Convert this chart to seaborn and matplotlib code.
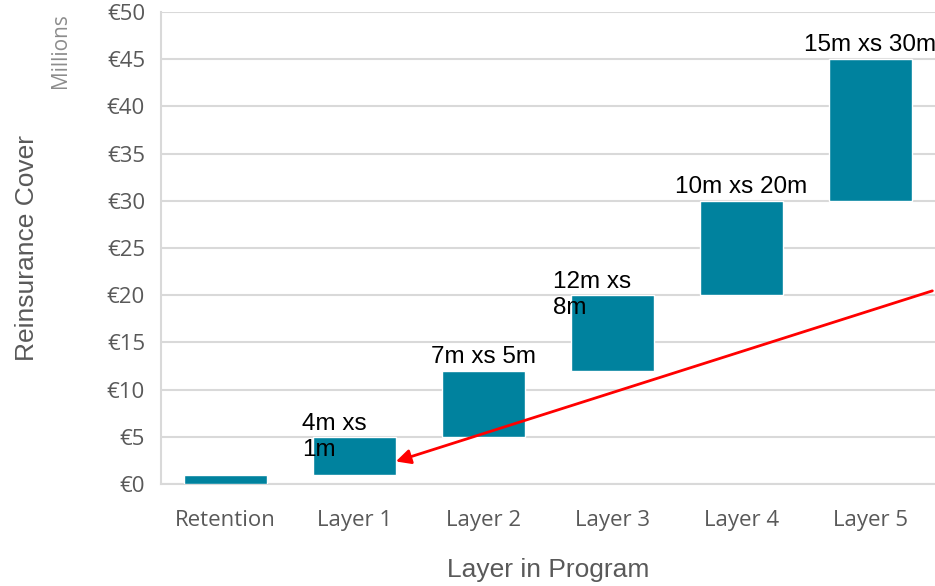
import matplotlib
matplotlib.use("Agg")
import matplotlib.pyplot as plt
import seaborn as sns
import pandas as pd

# Reinsurance programme tower (values in € millions)
layers = ["Retention", "Layer 1", "Layer 2", "Layer 3", "Layer 4", "Layer 5"]
attachment = [0, 1, 5, 12, 20, 30]
cover = [1, 4, 7, 8, 10, 15]
layer_labels = ["", "4m xs\n1m", "7m xs 5m", "12m xs\n8m", "10m xs 20m", "15m xs 30m"]
y_ticks = [0, 5, 10, 15, 20, 25, 30, 35, 40, 45, 50]

df = pd.DataFrame({"layer": layers, "base": attachment, "size": cover})

sns.set_theme(style="white")
plt.rcParams["font.family"] = ["Liberation Sans", "DejaVu Sans"]

fig = plt.figure(figsize=(9.35, 5.86), dpi=100)
ax = fig.add_axes([161 / 935, 1 - 484 / 586, 1 - 161 / 935, 472 / 586])

teal = "#00829E"
sns.barplot(data=df, x="layer", y="size", bottom=df["base"].to_numpy(),
            color=teal, saturation=1, width=0.64, ax=ax, zorder=3)

ax.set_xlim(-0.5, len(layers) - 0.5)
ax.set_ylim(0, 50)
ax.set_yticks(y_ticks)
ax.set_yticklabels([f"€{v}" for v in y_ticks])

grid_c = "#d9d9d9"
ax.yaxis.grid(True, color=grid_c, lw=1.5, zorder=0)
ax.set_axisbelow(True)
for s in ["top", "right"]:
    ax.spines[s].set_visible(False)
for s in ["left", "bottom"]:
    ax.spines[s].set_color(grid_c)
    ax.spines[s].set_linewidth(1.5)

tick_c = "#595959"
ax.tick_params(axis="both", length=0, colors=tick_c)
ax.tick_params(axis="y", pad=11.5)
ax.tick_params(axis="x", pad=18.5)
for t in ax.get_xticklabels() + ax.get_yticklabels():
    t.set_fontfamily(["Open Sans", "DejaVu Sans"])
    t.set_fontsize(16)

ax.set_xlabel("Layer in Program", fontsize=19, color=tick_c, va="center")
ax.xaxis.set_label_coords(0.5, (484 - 570) / 472)
ax.set_ylabel("Reinsurance Cover", fontsize=19, color=tick_c, va="center")
ax.yaxis.set_label_coords((27 - 161) / 774, 0.5)

fig.text(60 / 935, 1 - 13 / 586, "Millions", rotation=90, ha="center", va="top",
         fontsize=15, color="#8c8c8c", family=["Open Sans", "DejaVu Sans"])

# Layer annotations
for i, (lab, b, s) in enumerate(zip(layer_labels, attachment, cover)):
    if not lab:
        continue
    top = b + s
    if "\n" in lab:
        ax.annotate(lab, xy=(i, top), xytext=(-14.5, 0), textcoords="offset points",
                    ha="center", va="center", multialignment="left",
                    fontsize=17.5, color="black", zorder=5)
    else:
        ax.annotate(lab, xy=(i, top), xytext=(0, 2), textcoords="offset points",
                    ha="center", va="bottom", fontsize=17.5, color="black", zorder=5)

# Arrow pointing at the first layer
ax.annotate("", xy=(1.3, 2.3), xytext=(5.5, 20.55),
            arrowprops=dict(arrowstyle="-|>", color="red", lw=2, mutation_scale=22),
            annotation_clip=False, zorder=6)

fig.savefig("out.png", dpi=100)
